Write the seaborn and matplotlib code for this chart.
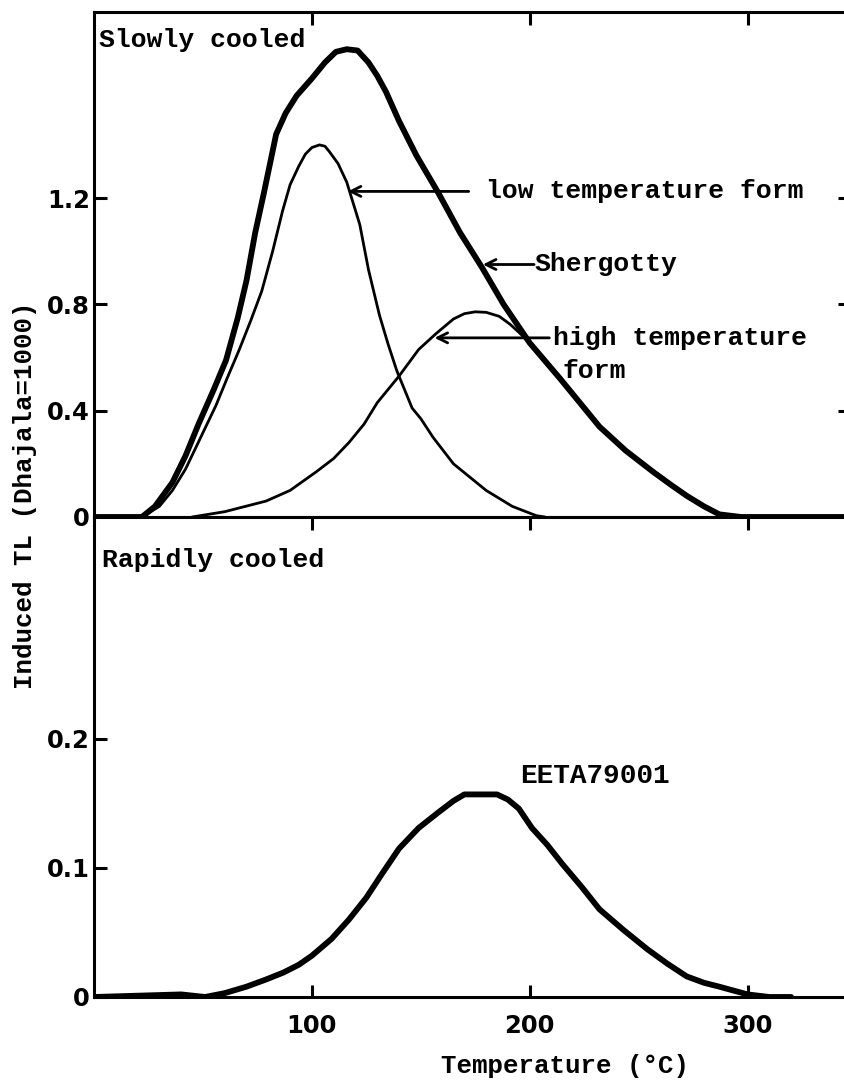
import numpy as np
import pandas as pd
import matplotlib
matplotlib.use("Agg")
import matplotlib.pyplot as plt
import seaborn as sns

sns.set_theme(style="ticks")
plt.rcParams['font.family'] = ['DejaVu Sans']

# Slowly cooled: Shergotty glow curve and its two components
sherg_T = [0, 10, 22, 28, 36, 42, 48, 55, 60.6, 66, 70, 74, 78, 83.6, 88, 93, 100, 106,
           111, 116, 121, 126, 130, 134, 140, 148, 158, 168, 178, 188, 200, 214, 222, 232,
           244, 256.6, 265, 272, 280, 287, 297, 310, 347]
sherg_TL = [0, 0, 0, 0.04, 0.13, 0.23, 0.35, 0.48, 0.59, 0.75, 0.89, 1.07, 1.22, 1.44,
            1.52, 1.585, 1.65, 1.71, 1.75, 1.76, 1.755, 1.71, 1.66, 1.60, 1.49, 1.36, 1.22,
            1.07, 0.94, 0.80, 0.655, 0.52, 0.44, 0.34, 0.25, 0.17, 0.12, 0.08, 0.04,
            0.01, 0, 0, 0]

low_T = [22, 30, 36, 42, 49, 56, 61, 66.7, 72, 77, 82, 86.5, 90, 94, 97, 100, 103.5, 106,
         108, 112, 116, 119, 122, 126, 131, 135, 139, 146, 150, 155.6, 165, 180, 192, 203, 207]
low_TL = [0, 0.04, 0.10, 0.18, 0.30, 0.42, 0.52, 0.63, 0.74, 0.85, 1.0, 1.15, 1.25,
          1.32, 1.365, 1.39, 1.40, 1.395, 1.375, 1.33, 1.26, 1.18, 1.10, 0.93, 0.76, 0.65,
          0.55, 0.41, 0.37, 0.30, 0.20, 0.10, 0.04, 0.005, 0]

high_T = [45, 60, 79, 90, 102, 110, 117, 124, 130, 140, 149, 157, 165, 170, 175, 180,
          186, 191, 195, 200, 207, 214]
high_TL = [0, 0.02, 0.06, 0.10, 0.17, 0.22, 0.28, 0.35, 0.43, 0.53, 0.63, 0.69, 0.745,
           0.765, 0.772, 0.77, 0.755, 0.725, 0.695, 0.655, 0.585, 0.52]

# Rapidly cooled: EETA79001
eeta_T = [0, 20, 40, 51, 60, 70, 79, 87, 94, 100, 109, 117, 125, 132, 140, 149, 158,
          165, 170, 185, 190, 195, 201, 208, 215, 224, 232, 243, 254, 263, 272, 280,
          287, 300, 310, 320]
eeta_TL = [0, 0.001, 0.002, 0, 0.003, 0.008, 0.0136, 0.019, 0.025, 0.032, 0.045, 0.060,
           0.077, 0.095, 0.115, 0.131, 0.143, 0.152, 0.157, 0.157, 0.153, 0.146, 0.131,
           0.118, 0.103, 0.085, 0.068, 0.052, 0.037, 0.026, 0.016, 0.011, 0.008, 0.002,
           0, 0]

top_ticks = [0, 0.4, 0.8, 1.2]
top_labels = ["0", "0.4", "0.8", "1.2"]
bot_ticks = [0, 0.1, 0.2]
bot_labels = ["0", "0.1", "0.2"]
x_ticks = [100, 200, 300]

W, H = 845, 1082
fig = plt.figure(figsize=(W / 100, H / 100), dpi=100)
left, right = 94, 850
ax_top = fig.add_axes([left / W, 1 - 517 / H, (right - left) / W, (517 - 12) / H])
ax_bot = fig.add_axes([left / W, 1 - 997 / H, (right - left) / W, (997 - 517) / H])

serif = dict(family='Liberation Mono', weight='bold', color='black')
thick, thin = 4.2, 2.0

sns.lineplot(x=sherg_T, y=sherg_TL, ax=ax_top, color='black', lw=thick, sort=False, estimator=None)
sns.lineplot(x=low_T, y=low_TL, ax=ax_top, color='black', lw=thin, sort=False, estimator=None)
sns.lineplot(x=high_T, y=high_TL, ax=ax_top, color='black', lw=thin, sort=False, estimator=None)
sns.lineplot(x=eeta_T, y=eeta_TL, ax=ax_bot, color='black', lw=thick, sort=False, estimator=None)

for ax in (ax_top, ax_bot):
    ax.set_xlim(0, 347)
    ax.set_xticks(x_ticks)
    for s in ax.spines.values():
        s.set_linewidth(2.2)
        s.set_color('black')
    ax.tick_params(direction='in', length=9, width=2.2, labelsize=17.5, pad=3,
                   colors='black', right=True, top=True)

ax_top.set_ylim(0, 1.90)
ax_top.set_yticks(top_ticks)
ax_top.set_yticklabels(top_labels, fontweight='bold')
ax_top.tick_params(axis='x', bottom=False, labelbottom=False)

ax_bot.set_ylim(0, 0.372)
ax_bot.set_yticks(bot_ticks)
ax_bot.set_yticklabels(bot_labels, fontweight='bold')
ax_bot.set_xticklabels([str(t) for t in x_ticks], fontweight='bold')
ax_bot.tick_params(axis='x', pad=12)
ax_bot.tick_params(axis='y', right=False)

ax_top.text(2.3, 1.795, "Slowly cooled", fontsize=19, va='center', ha='left', **serif)
ax_bot.text(3.7, 0.339, "Rapidly cooled", fontsize=19, va='center', ha='left', **serif)

arrow = dict(arrowstyle='->', lw=2, color='black', shrinkA=0, shrinkB=0,
             mutation_scale=18)
ax_top.annotate("", xy=(116.5, 1.225), xytext=(172, 1.225), arrowprops=arrow)
ax_top.text(180, 1.225, "low temperature form", fontsize=19, va='center', ha='left', **serif)
ax_top.annotate("", xy=(178.5, 0.95), xytext=(202, 0.95), arrowprops=arrow)
ax_top.text(202, 0.95, "Shergotty", fontsize=19, va='center', ha='left', **serif)
ax_top.annotate("", xy=(156.3, 0.674), xytext=(209, 0.674), arrowprops=arrow)
ax_top.text(210.6, 0.674, "high temperature", fontsize=19, va='center', ha='left', **serif)
ax_top.text(215, 0.55, "form", fontsize=19, va='center', ha='left', **serif)

ax_bot.text(195.4, 0.171, "EETA79001", fontsize=20, va='center', ha='left', **serif)

fig.text(25 / W, 1 - 495 / H, "Induced TL (Dhajala=1000)", rotation=90,
         fontsize=18.5, va='center', ha='center', **serif)
fig.text(565 / W, 1 - 1066 / H, "Temperature (°C)", fontsize=18.5,
         va='center', ha='center', **serif)

fig.savefig("out.png", dpi=100)
